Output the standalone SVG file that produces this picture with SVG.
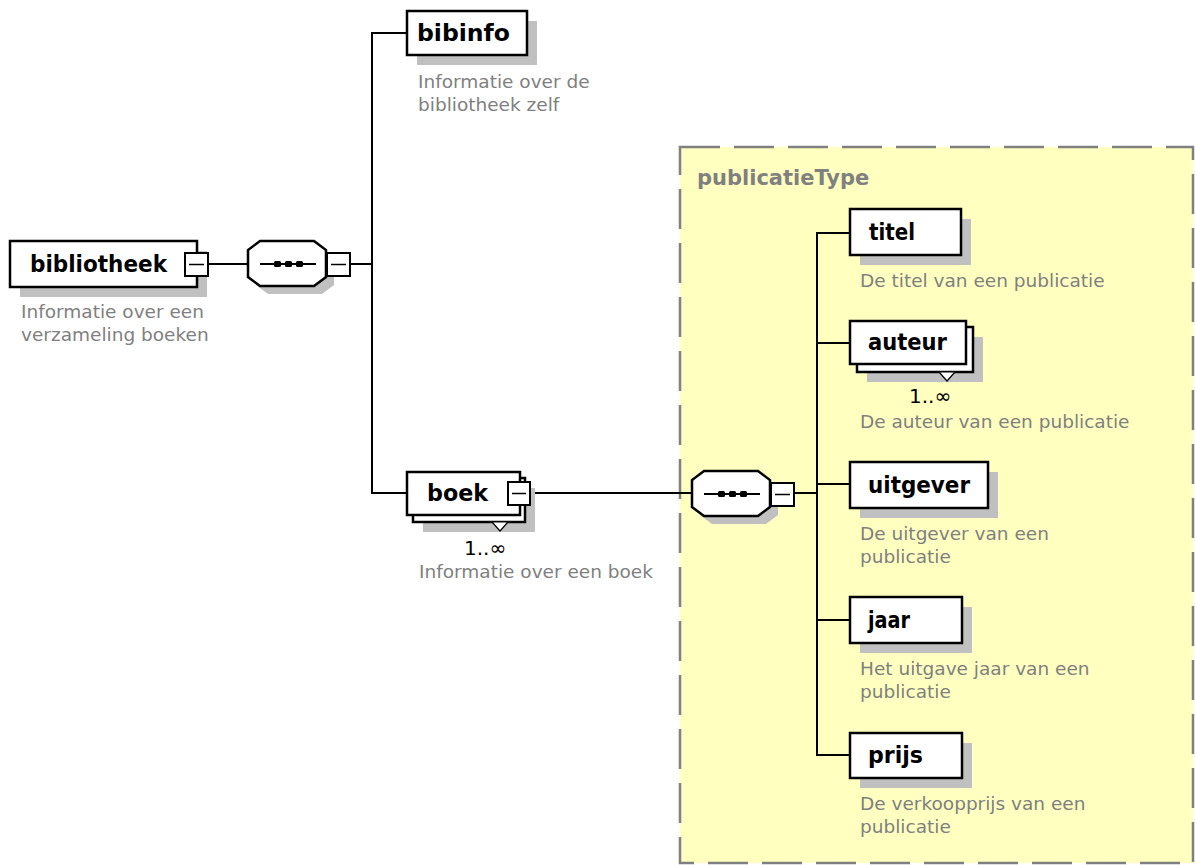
<svg xmlns="http://www.w3.org/2000/svg" xmlns:xlink="http://www.w3.org/1999/xlink" width="1195" height="865" viewBox="0 0 1195 865">
<style>
.box{fill:#fff;stroke:#000;stroke-width:2.5}
.shadow{fill:#c0c0c0;stroke:none}
.lbl{font-family:"DejaVu Sans",sans-serif;font-weight:bold;font-size:23px;fill:#000}
.desc{font-family:"DejaVu Sans",sans-serif;font-size:18.5px;fill:#808080}
.card{font-family:"DejaVu Sans",sans-serif;font-size:20px;fill:#000}
.conn{fill:none;stroke:#000;stroke-width:2}
.btn{fill:#fff;stroke:#000;stroke-width:2}
</style>
<defs>
  <g id="seq">
    <polygon class="shadow" points="20,8 74,8 86,17 86,44 74,53 20,53 8,44 8,17"/>
    <polygon class="box" points="12,0 66,0 78,9 78,36 66,45 12,45 0,36 0,9"/>
    <line x1="12" y1="23" x2="68" y2="23" stroke="#000" stroke-width="2"/>
    <rect x="26" y="20" width="7" height="6" rx="1.5" fill="#000"/>
    <rect x="37" y="20" width="7" height="6" rx="1.5" fill="#000"/>
    <rect x="48" y="20" width="7" height="6" rx="1.5" fill="#000"/>
    <rect class="btn" x="79" y="12" width="23" height="23"/>
    <line x1="83" y1="23.5" x2="98" y2="23.5" stroke="#000" stroke-width="1.5"/>
  </g>
</defs>

<g id="publicatieType">
  <rect x="680" y="147" width="513" height="716" fill="#ffffc0" stroke="#808080" stroke-width="2.5" stroke-dasharray="40 14"/>
  <text x="697" y="185" font-family="DejaVu Sans, sans-serif" font-weight="bold" font-size="21" fill="#808080">publicatieType</text>
</g>

<g id="connectors">
  <line class="conn" x1="208" y1="264" x2="248" y2="264"/>
  <line class="conn" x1="350" y1="264" x2="372" y2="264"/>
  <polyline class="conn" points="407,33 372,33 372,493 407,493"/>
  <line class="conn" x1="530" y1="493" x2="692" y2="493"/>
  <line class="conn" x1="792" y1="493" x2="817" y2="493"/>
  <line class="conn" x1="817" y1="232" x2="817" y2="756"/>
  <line class="conn" x1="817" y1="233" x2="850" y2="233"/>
  <line class="conn" x1="817" y1="343" x2="850" y2="343"/>
  <line class="conn" x1="817" y1="484" x2="850" y2="484"/>
  <line class="conn" x1="817" y1="620" x2="850" y2="620"/>
  <line class="conn" x1="817" y1="755" x2="850" y2="755"/>
</g>

<g id="bibliotheek">
  <rect class="shadow" x="20" y="251" width="187" height="46"/>
  <rect class="box" x="10" y="241" width="187" height="46"/>
  <text class="lbl" x="30" y="272" textLength="137" lengthAdjust="spacingAndGlyphs">bibliotheek</text>
  <rect class="btn" x="185" y="253" width="23" height="23"/>
  <line x1="189" y1="264.5" x2="204" y2="264.5" stroke="#000" stroke-width="1.5"/>
  <text class="desc" x="21" y="318">Informatie over een</text>
  <text class="desc" x="21" y="341">verzameling boeken</text>
</g>

<g id="sequence1">
  <use xlink:href="#seq" href="#seq" x="248" y="241"/>
</g>

<g id="bibinfo">
  <rect class="shadow" x="417" y="21" width="120" height="44"/>
  <rect class="box" x="407" y="11" width="120" height="44"/>
  <text class="lbl" x="417" y="41" textLength="93" lengthAdjust="spacingAndGlyphs">bibinfo</text>
  <text class="desc" x="418" y="88">Informatie over de</text>
  <text class="desc" x="418" y="111">bibliotheek zelf</text>
</g>

<g id="boek">
  <rect class="shadow" x="423" y="488" width="112" height="44"/>
  <rect class="box" x="413" y="478" width="112" height="44"/>
  <polygon points="492,522 508,522 500,531" fill="#fff" stroke="#000" stroke-width="1.2"/>
  <rect class="box" x="407" y="472" width="113" height="43"/>
  <text class="lbl" x="427" y="501" textLength="61" lengthAdjust="spacingAndGlyphs">boek</text>
  <rect class="btn" x="508" y="482" width="22" height="23"/>
  <line x1="512" y1="493.5" x2="526" y2="493.5" stroke="#000" stroke-width="1.5"/>
  <text class="card" x="464" y="555">1..∞</text>
  <text class="desc" x="419" y="578">Informatie over een boek</text>
</g>

<g id="sequence2">
  <use xlink:href="#seq" href="#seq" x="692" y="471"/>
</g>

<g id="titel">
  <rect class="shadow" x="860" y="219" width="111" height="46"/>
  <rect class="box" x="850" y="209" width="111" height="46"/>
  <text class="lbl" x="869" y="240" textLength="46" lengthAdjust="spacingAndGlyphs">titel</text>
  <text class="desc" x="860" y="287">De titel van een publicatie</text>
</g>

<g id="auteur">
  <rect class="shadow" x="867" y="337" width="116" height="45"/>
  <rect class="box" x="857" y="327" width="116" height="45"/>
  <polygon points="939,372 955,372 947,381" fill="#fff" stroke="#000" stroke-width="1.2"/>
  <rect class="box" x="850" y="321" width="116" height="43"/>
  <text class="lbl" x="868" y="350" textLength="79" lengthAdjust="spacingAndGlyphs">auteur</text>
  <text class="card" x="909" y="403">1..∞</text>
  <text class="desc" x="860" y="428">De auteur van een publicatie</text>
</g>

<g id="uitgever">
  <rect class="shadow" x="860" y="472" width="138" height="46"/>
  <rect class="box" x="850" y="462" width="138" height="46"/>
  <text class="lbl" x="868" y="493" textLength="102" lengthAdjust="spacingAndGlyphs">uitgever</text>
  <text class="desc" x="860" y="540">De uitgever van een</text>
  <text class="desc" x="860" y="563">publicatie</text>
</g>

<g id="jaar">
  <rect class="shadow" x="860" y="607" width="112" height="46"/>
  <rect class="box" x="850" y="597" width="112" height="46"/>
  <text class="lbl" x="868" y="628" textLength="42" lengthAdjust="spacingAndGlyphs">jaar</text>
  <text class="desc" x="860" y="675">Het uitgave jaar van een</text>
  <text class="desc" x="860" y="698">publicatie</text>
</g>

<g id="prijs">
  <rect class="shadow" x="860" y="743" width="112" height="45"/>
  <rect class="box" x="850" y="733" width="112" height="45"/>
  <text class="lbl" x="868" y="763" textLength="55" lengthAdjust="spacingAndGlyphs">prijs</text>
  <text class="desc" x="860" y="810">De verkoopprijs van een</text>
  <text class="desc" x="860" y="833">publicatie</text>
</g>
</svg>
